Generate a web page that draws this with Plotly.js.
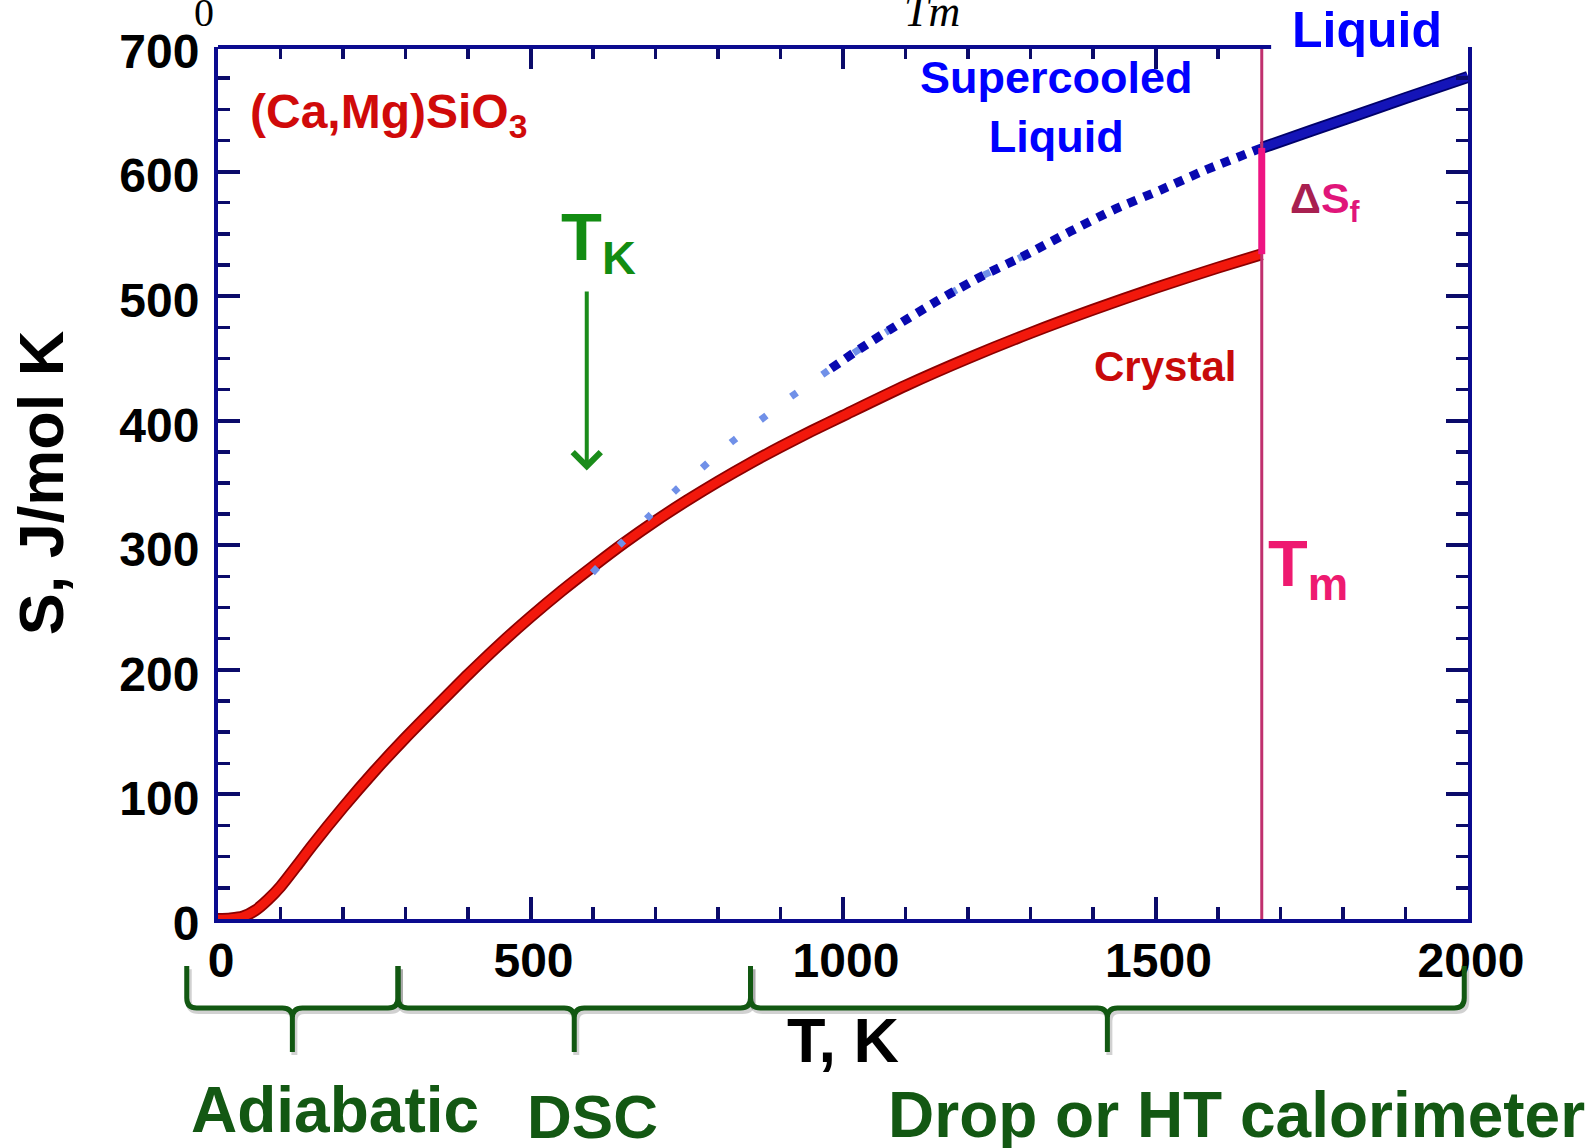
<!DOCTYPE html>
<html>
<head>
<meta charset="utf-8">
<script src="https://cdn.plot.ly/plotly-3.0.1.min.js"></script>
<style>
  html, body { margin: 0; padding: 0; background: #ffffff; }
  #chart { width: 1594px; height: 1148px; }
</style>
</head>
<body>
<div id="chart"></div>
<script>
// Entropy of (Ca,Mg)SiO3, S in J/(mol K) versus temperature T in K

// Crystal branch, from 0 K up to the melting point
const crystalT = [0, 20, 40, 60, 80, 100, 125, 150, 200, 250, 300, 350, 400, 450, 500, 550, 600, 650, 700, 750, 800, 850, 900, 950, 1000, 1100, 1200, 1300, 1400, 1500, 1600, 1670];
const crystalS = [0, 0.5, 2, 7, 15.5, 26, 42, 58.5, 89.5, 118.5, 145.5, 171, 196.2, 220.1, 242.4, 263.4, 283, 301.9, 319.5, 335.8, 351.1, 365.5, 379, 391.8, 404, 428.1, 450.1, 470.4, 489.1, 506.6, 522.9, 533.7];

// Supercooled liquid, extrapolated below Tm down to the Kauzmann point
const supercooledT = [599, 646, 691, 732, 772, 822, 864, 908, 953, 981, 1028, 1078, 1150, 1222, 1292, 1364, 1436, 1507, 1579, 1670];
const supercooledS = [278, 302, 324, 344, 361, 383, 399, 416, 432, 442, 458, 474, 496, 516, 533, 552, 570, 585, 601, 619];

// Stable liquid above Tm
const liquidT = [1670, 1750, 1820, 1900, 2000];
const liquidS = [619, 633, 645, 659, 676];

// Characteristic temperatures
const meltingT = 1670;   // Tm
const kauzmannT = 590;   // TK
const kauzmannArrowS = [505, 360];  // arrow tail and tip

// Measurement techniques and the temperature spans they cover
const methodNames = ['Adiabatic', 'DSC', 'Drop or HT calorimeter'];
const methodLow = [-50, 288, 852];
const methodHigh = [288, 852, 1994];

// Axes
const xRange = [0, 2000];
const yRange = [0, 700];
const xTickVals = [0, 500, 1000, 1500, 2000];
const xTickText = ['0', '500', '1000', '1500', '2000'];
const yTickVals = [0, 100, 200, 300, 400, 500, 600, 700];
const yTickText = ['0', '100', '200', '300', '400', '500', '600', '700'];
const topAxisEnd = 1685;
const topMajorTicks = [500, 1000, 1500];
const topMinorTicks = [100, 200, 300, 400, 600, 700, 800, 900, 1100, 1200, 1300, 1400, 1600];

const SANS = 'Liberation Sans, Arial, Helvetica, sans-serif';
const SERIF = 'Liberation Serif, Times New Roman, serif';
const AXIS_BLUE = '#0b0b8f';
const TICK_BLUE = '#0b0b6a';
const BRACE_GREEN = '#125812';

// Split of the supercooled branch into the faint and the dense dotted parts
const faintEnd = supercooledT.indexOf(1364) + 1;
const denseStart = supercooledT.indexOf(981);

const traces = [
  { x: crystalT, y: crystalS, mode: 'lines',
    line: { color: '#8c0000', width: 12, shape: 'spline', smoothing: 0.7 }, hoverinfo: 'skip' },
  { x: crystalT, y: crystalS, mode: 'lines', name: 'Crystal',
    line: { color: '#f2180c', width: 8.5, shape: 'spline', smoothing: 0.7 } },
  { x: supercooledT.slice(0, faintEnd), y: supercooledS.slice(0, faintEnd), mode: 'lines',
    line: { color: '#7090e8', width: 7, dash: '7px,31px', shape: 'spline', smoothing: 0.7 }, hoverinfo: 'skip' },
  { x: supercooledT.slice(denseStart), y: supercooledS.slice(denseStart), mode: 'lines', name: 'Supercooled liquid',
    line: { color: '#0808b0', width: 9, dash: '9px,8px', shape: 'spline', smoothing: 0.7 } },
  { x: liquidT, y: liquidS, mode: 'lines',
    line: { color: '#00006a', width: 12, shape: 'spline' }, hoverinfo: 'skip' },
  { x: liquidT, y: liquidS, mode: 'lines', name: 'Liquid',
    line: { color: '#1414b8', width: 8.5, shape: 'spline' } },
  // melting temperature marker
  { x: [meltingT, meltingT], y: yRange, mode: 'lines', xaxis: 'x2', yaxis: 'y',
    line: { color: '#c0306e', width: 3 }, hoverinfo: 'skip' },
  // entropy of fusion step
  { x: [meltingT, meltingT], y: [crystalS[crystalS.length - 1], liquidS[0]], mode: 'lines', xaxis: 'x2', yaxis: 'y',
    name: 'ΔSf', line: { color: '#ee1482', width: 7 } }
];

// Curly braces under the temperature axis, one per technique
const toPaperX = t => (t - xRange[0]) / (xRange[1] - xRange[0]);
const braceTop = -0.054, braceMid = -0.102, braceTip = -0.1525, rx = 0.008, ry = 0.0115;
function bracePath(a, b, dx, dy) {
  const m = (a + b) / 2;
  const X = v => (v + dx).toFixed(5);
  const Y = v => (v + dy).toFixed(5);
  return 'M' + X(a) + ',' + Y(braceTop) +
    ' L' + X(a) + ',' + Y(braceMid + ry) +
    ' Q' + X(a) + ',' + Y(braceMid) + ' ' + X(a + rx) + ',' + Y(braceMid) +
    ' L' + X(m - rx) + ',' + Y(braceMid) +
    ' Q' + X(m) + ',' + Y(braceMid) + ' ' + X(m) + ',' + Y(braceMid - ry) +
    ' L' + X(m) + ',' + Y(braceTip) +
    ' M' + X(m) + ',' + Y(braceMid - ry) +
    ' Q' + X(m) + ',' + Y(braceMid) + ' ' + X(m + rx) + ',' + Y(braceMid) +
    ' L' + X(b - rx) + ',' + Y(braceMid) +
    ' Q' + X(b) + ',' + Y(braceMid) + ' ' + X(b) + ',' + Y(braceMid + ry) +
    ' L' + X(b) + ',' + Y(braceTop);
}

const shapes = [
  // top frame line, stopping just past Tm
  { type: 'line', xref: 'paper', yref: 'paper', x0: 0, x1: toPaperX(topAxisEnd), y0: 1, y1: 1,
    line: { color: AXIS_BLUE, width: 4 }, layer: 'above' }
];
methodNames.forEach((name, i) => {
  const a = toPaperX(methodLow[i]), b = toPaperX(methodHigh[i]);
  shapes.push({ type: 'path', xref: 'paper', yref: 'paper', path: bracePath(a, b, 0.0016, -0.0035),
    line: { color: 'rgba(0,0,0,0.18)', width: 6 } });
  shapes.push({ type: 'path', xref: 'paper', yref: 'paper', path: bracePath(a, b, 0, 0),
    line: { color: BRACE_GREEN, width: 5 } });
});

const methodLabelPos = [
  { x: 0.0936, y: -0.2196, size: 64 },
  { x: 0.2992, y: -0.2265, size: 62 },
  { x: 0.8150, y: -0.2242, size: 64 }
];

const annotations = [
  { xref: 'x', yref: 'y', x: 48, y: 645.5, xanchor: 'left', yanchor: 'middle', showarrow: false,
    text: '(Ca,Mg)SiO<sub>3</sub>', font: { family: SANS, size: 48, weight: 'bold', color: '#d00a0a' } },
  { xref: 'x', yref: 'y', x: 1341, y: 652, xanchor: 'center', yanchor: 'middle', showarrow: false,
    text: 'Supercooled<br>Liquid', font: { family: SANS, size: 45, weight: 'bold', color: '#0000ff' } },
  { xref: 'paper', yref: 'paper', x: 0.9192, y: 1.0195, xanchor: 'center', yanchor: 'middle', showarrow: false,
    text: 'Liquid', font: { family: SANS, size: 50, weight: 'bold', color: '#0000ff' } },
  { xref: 'x', yref: 'y', x: 1515, y: 443.5, xanchor: 'center', yanchor: 'middle', showarrow: false,
    text: 'Crystal', font: { family: SANS, size: 42, weight: 'bold', color: '#c80a0a' } },
  { xref: 'x', yref: 'y', x: 1712, y: 576, xanchor: 'left', yanchor: 'middle', showarrow: false,
    text: '<span style="color:#a82050">Δ</span>S<sub>f</sub>', font: { family: SANS, size: 43, weight: 'bold', color: '#e0157a' } },
  { xref: 'x', yref: 'y', x: 1676, y: 281, xanchor: 'left', yanchor: 'middle', showarrow: false,
    text: 'T<sub>m</sub>', font: { family: SANS, size: 65, weight: 'bold', color: '#ee1a70' } },
  { xref: 'x', yref: 'y', x: 545, y: 544, xanchor: 'left', yanchor: 'middle', showarrow: false,
    text: 'T<sub>K</sub>', font: { family: SANS, size: 67, weight: 'bold', color: '#128c12' } },
  { xref: 'x', yref: 'y', axref: 'x', ayref: 'y', x: kauzmannT, y: kauzmannArrowS[1],
    ax: kauzmannT, ay: kauzmannArrowS[0], text: '', showarrow: true,
    arrowhead: 4, arrowsize: 1.35, arrowwidth: 4, arrowcolor: '#1a8c1a', standoff: 0 },
  // fragments of the formula set above the frame
  { xref: 'paper', yref: 'paper', x: -0.0112, y: 1.0400, xanchor: 'center', yanchor: 'middle', showarrow: false,
    text: '0', font: { family: SERIF, size: 40, color: '#000000' } },
  { xref: 'paper', yref: 'paper', x: 0.5712, y: 1.0412, xanchor: 'center', yanchor: 'middle', showarrow: false,
    text: 'Tm', font: { family: SERIF, size: 44, style: 'italic', color: '#000000' } }
];
methodNames.forEach((name, i) => {
  annotations.push({ xref: 'paper', yref: 'paper', x: methodLabelPos[i].x, y: methodLabelPos[i].y,
    xanchor: 'center', yanchor: 'middle', showarrow: false, text: name,
    font: { family: SANS, size: methodLabelPos[i].size, weight: 'bold', color: '#135813' } });
});

const tickFont = { family: SANS, size: 48, weight: 'bold', color: '#000000' };

const layout = {
  width: 1594, height: 1148,
  margin: { l: 218, r: 126, t: 47, b: 229, pad: 0 },
  paper_bgcolor: '#ffffff', plot_bgcolor: '#ffffff',
  showlegend: false,
  xaxis: {
    range: xRange, domain: [0, 1], anchor: 'y',
    showline: true, linecolor: AXIS_BLUE, linewidth: 4, mirror: false,
    showgrid: false, zeroline: false,
    tickmode: 'array', tickvals: xTickVals, ticktext: xTickText,
    ticks: 'inside', ticklen: 22, tickwidth: 4, tickcolor: TICK_BLUE,
    minor: { ticks: 'inside', ticklen: 12, tickwidth: 3.5, tickcolor: TICK_BLUE, tickmode: 'linear', tick0: 0, dtick: 100 },
    tickfont: tickFont, ticklabelstandoff: -4, ticklabelshift: 3,
    title: { text: 'T, K', font: { family: SANS, size: 63, weight: 'bold', color: '#000000' }, standoff: 33 }
  },
  xaxis2: {
    matches: 'x', overlaying: 'x', side: 'top', anchor: 'y',
    showline: false, showgrid: false, zeroline: false, showticklabels: false,
    tickmode: 'array', tickvals: topMajorTicks,
    ticks: 'inside', ticklen: 22, tickwidth: 4, tickcolor: TICK_BLUE,
    minor: { ticks: 'inside', ticklen: 12, tickwidth: 3.5, tickcolor: TICK_BLUE, tickmode: 'array', tickvals: topMinorTicks }
  },
  yaxis: {
    range: yRange, domain: [0, 1], anchor: 'x',
    showline: true, linecolor: AXIS_BLUE, linewidth: 4, mirror: 'ticks',
    showgrid: false, zeroline: false,
    tickmode: 'array', tickvals: yTickVals, ticktext: yTickText,
    ticks: 'inside', ticklen: 22, tickwidth: 4, tickcolor: TICK_BLUE,
    minor: { ticks: 'inside', ticklen: 12, tickwidth: 3.5, tickcolor: TICK_BLUE, tickmode: 'linear', tick0: 0, dtick: 25 },
    tickfont: tickFont, ticklabelstandoff: 5, ticklabelshift: 4,
    title: { text: 'S, J/mol K', font: { family: SANS, size: 63, weight: 'bold', color: '#000000' }, standoff: 36 }
  },
  shapes: shapes,
  annotations: annotations
};

Plotly.newPlot('chart', traces, layout, { displayModeBar: false, staticPlot: true });
</script>
</body>
</html>
